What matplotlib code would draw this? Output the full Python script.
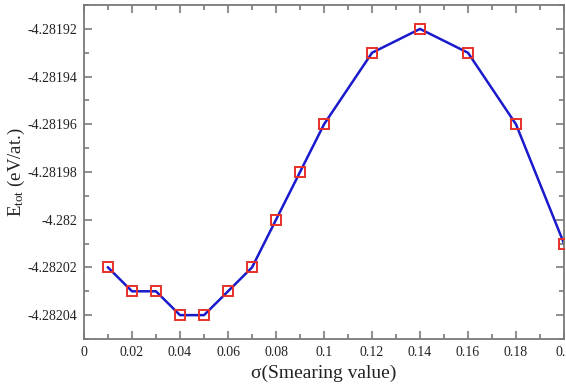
import matplotlib
matplotlib.use("Agg")
import matplotlib.pyplot as plt
from matplotlib.ticker import MultipleLocator, FuncFormatter

plt.rcParams['font.family'] = ['Liberation Serif', 'DejaVu Serif']
plt.rcParams['mathtext.fontset'] = 'custom'
plt.rcParams['mathtext.rm'] = 'Liberation Serif'
plt.rcParams['mathtext.it'] = 'Liberation Serif:italic'

# smearing values and total energies
sigma = [0.01, 0.02, 0.03, 0.04, 0.05, 0.06, 0.07, 0.08, 0.09, 0.10,
         0.12, 0.14, 0.16, 0.18, 0.20]
e_tot = [-4.28202, -4.28203, -4.28203, -4.28204, -4.28204, -4.28203, -4.28202,
         -4.28200, -4.28198, -4.28196, -4.28193, -4.28192, -4.28193, -4.28196,
         -4.28201]


def short(v, pos):
    s = f"{v:.5f}".rstrip('0').rstrip('.')
    if s in ('-0', ''):
        s = '0'
    return s


fig = plt.figure(figsize=(5.66, 3.9), dpi=100)
ax = fig.add_axes([0.1484, 0.1308, 0.8481, 0.8562])

ax.plot(sigma, e_tot, color='#1a1acc', lw=1.8, zorder=2)
ax.plot(sigma, e_tot, ls='none', marker='s', ms=7, mfc='none', mec='#e8302a',
        mew=1.4, zorder=3)

ax.set_xlim(0, 0.2)
ax.set_ylim(-4.28205, -4.28191)
ax.xaxis.set_major_locator(MultipleLocator(0.02))
ax.xaxis.set_minor_locator(MultipleLocator(0.01))
ax.yaxis.set_major_locator(MultipleLocator(0.00002))
ax.yaxis.set_minor_locator(MultipleLocator(0.00001))
ax.xaxis.set_major_formatter(FuncFormatter(short))
ax.yaxis.set_major_formatter(FuncFormatter(short))

spine_col = '#7a7a7a'
for s in ax.spines.values():
    s.set_color(spine_col)
    s.set_linewidth(1.3)
ax.tick_params(which='both', direction='in', top=True, right=True,
               color=spine_col, width=1.2, labelsize=10, labelcolor='#222222')
ax.tick_params(which='major', length=6, pad=5)
ax.tick_params(which='minor', length=3.5)

ax.set_xlabel(r'σ(Smearing value)', fontsize=14, color='#222222', labelpad=4)
ax.set_ylabel(r'E$_{\rm tot}$ (eV/at.)', fontsize=13.5, color='#222222')
ax.yaxis.set_label_coords(-0.118, 0.5)

fig.savefig('out.png', dpi=100)
